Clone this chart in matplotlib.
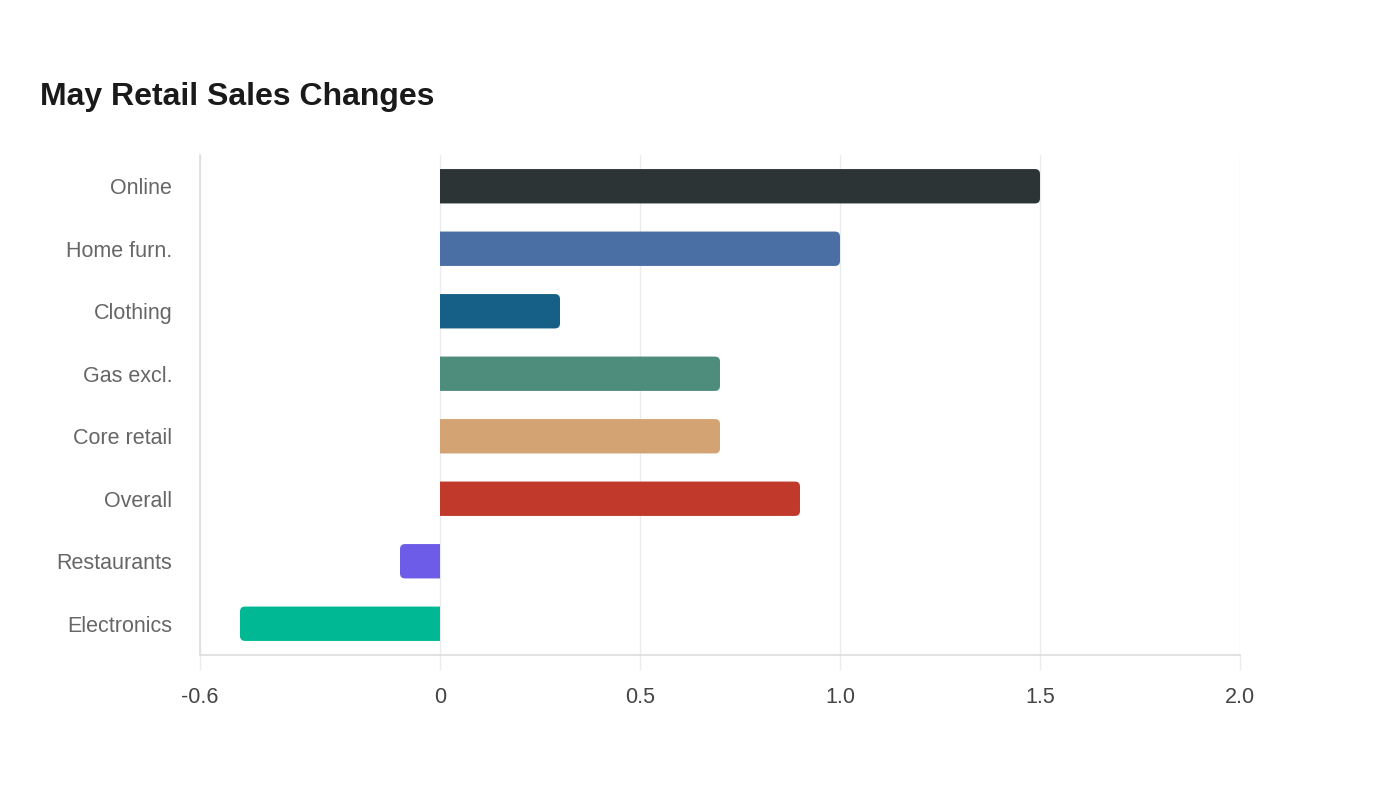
import matplotlib
matplotlib.use("Agg")
import matplotlib.pyplot as plt
from matplotlib.path import Path
from matplotlib.patches import PathPatch

plt.rcParams['font.family'] = ['Liberation Sans', 'DejaVu Sans']

categories = ["Online", "Home furn.", "Clothing", "Gas excl.", "Core retail",
              "Overall", "Restaurants", "Electronics"]
values = [1.5, 1.0, 0.3, 0.7, 0.7, 0.9, -0.1, -0.5]
colors = ["#2d3436", "#4a6fa5", "#166088", "#4e8d7c", "#d4a373",
          "#c0392b", "#6c5ce7", "#00b894"]
xticks = [-0.6, 0, 0.5, 1.0, 1.5, 2.0]
xticklabels = ["-0.6", "0", "0.5", "1.0", "1.5", "2.0"]

fig = plt.figure(figsize=(14, 8), dpi=100)
ax = fig.add_axes([200/1400, 145/800, 1040/1400, 500/800])

n = len(categories)
ax.set_xlim(-0.6, 2.0)
ax.set_ylim(n - 0.5, -0.5)

bar_h = 0.55
rx = 0.0125   # ~5 px in x data units
ry = 0.08     # ~5 px in y data units


def bar_path(v, yc):
    s = 1 if v >= 0 else -1
    y0, y1 = yc - bar_h / 2, yc + bar_h / 2
    verts = [(0, y0), (v - s * rx, y0), (v, y0), (v, y0 + ry),
             (v, y1 - ry), (v, y1), (v - s * rx, y1), (0, y1), (0, y0)]
    codes = [Path.MOVETO, Path.LINETO, Path.CURVE3, Path.CURVE3,
             Path.LINETO, Path.CURVE3, Path.CURVE3, Path.LINETO, Path.CLOSEPOLY]
    return Path(verts, codes)


for i, (v, c) in enumerate(zip(values, colors)):
    ax.add_patch(PathPatch(bar_path(v, i), facecolor=c, edgecolor="none", zorder=3))

ax.set_yticks(range(n))
ax.set_yticklabels(categories)
ax.set_xticks(xticks)
ax.set_xticklabels(xticklabels)

ax.grid(axis='x', color="#ebebeb", linewidth=1, zorder=0)
ax.set_axisbelow(True)
for s in ["top", "right"]:
    ax.spines[s].set_visible(False)
for s in ["left", "bottom"]:
    ax.spines[s].set_color("#dddddd")
    ax.spines[s].set_linewidth(1.2)

ax.tick_params(axis='y', length=0, pad=20, labelsize=15.5, labelcolor="#666666")
ax.tick_params(axis='x', length=11, width=1, color="#ebebeb", pad=12,
               labelsize=15.5, labelcolor="#444444")

fig.text(40/1400, 1 - 97/800, "May Retail Sales Changes", fontsize=23,
         fontweight="bold", color="#1a1a1a", ha="left", va="center")

fig.savefig("out.png", dpi=100, facecolor="white")
